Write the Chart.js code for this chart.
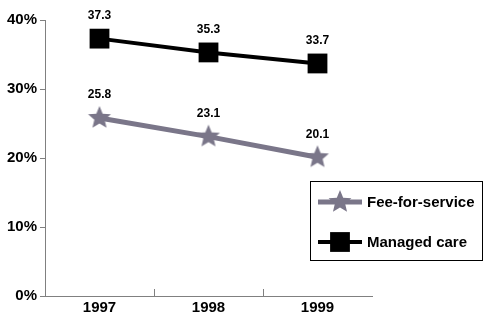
<!DOCTYPE html>
<html>
<head>
<meta charset="utf-8">
<script src="https://cdn.jsdelivr.net/npm/chart.js@4"></script>
<style>
  html, body { margin: 0; padding: 0; background: #fff; }
  #wrap { width: 485px; height: 314px; }
</style>
</head>
<body>
<div id="wrap"><canvas id="myChart" width="485" height="314"></canvas></div>
<script>
// chart values
const years = ["1997", "1998", "1999"];
const feeForService = [25.8, 23.1, 20.1];
const managedCare = [37.3, 35.3, 33.7];
const yTicks = [0, 10, 20, 30, 40];

const FONT = "Arial, 'Liberation Sans', sans-serif";
const GREY = "#7a7689";

// filled five point star used as point marker
function makeStar(r, color){
    const c = document.createElement("canvas");
    c.width = r * 2 + 2;
    c.height = r * 2 + 2;
    const g = c.getContext("2d");
    g.fillStyle = color;
    g.beginPath();
    for (let i = 0; i < 10; i++) {
        const rad = i % 2 === 0 ? r : r * 0.45;
        const a = -Math.PI / 2 + i * Math.PI / 5;
        const px = r + 1 + rad * Math.cos(a);
        const py = r + 1 + rad * Math.sin(a);
        if (i === 0) g.moveTo(px, py); else g.lineTo(px, py);
    }
    g.closePath();
    g.fill();
    return c;
}
const star = makeStar(12, GREY);

// value labels above each point
const valueLabels = {
    id: "valueLabels",
    afterDatasetsDraw(chart){
        const ctx = chart.ctx;
        ctx.save();
        ctx.font = "bold 12px " + FONT;
        ctx.fillStyle = "#000";
        ctx.textAlign = "center";
        ctx.textBaseline = "middle";
        chart.data.datasets.forEach((ds, i) => {
            chart.getDatasetMeta(i).data.forEach((pt, j) => {
                ctx.fillText(ds.data[j].toFixed(1), pt.x, pt.y - 23);
            });
        });
        ctx.restore();
    }
};

// small inward ticks between categories on the x axis
const xTicks = {
    id: "xTicks",
    afterDraw(chart){
        const ctx = chart.ctx;
        const x = chart.scales.x;
        ctx.save();
        ctx.strokeStyle = "#808080";
        ctx.lineWidth = 1;
        for (let i = 0; i < years.length - 1; i++) {
            const px = Math.round((x.getPixelForValue(i) + x.getPixelForValue(i + 1)) / 2) + 0.5;
            ctx.beginPath();
            ctx.moveTo(px, x.top);
            ctx.lineTo(px, x.top - 7);
            ctx.stroke();
        }
        ctx.restore();
    }
};

// boxed legend inside the plot
const boxLegend = {
    id: "boxLegend",
    afterDraw(chart){
        const ctx = chart.ctx;
        ctx.save();
        ctx.strokeStyle = "#000";
        ctx.lineWidth = 1;
        ctx.strokeRect(310.5, 181.5, 172, 79);
        const rows = [
            { y: 202, ds: chart.data.datasets[0] },
            { y: 242, ds: chart.data.datasets[1] }
        ];
        rows.forEach(row => {
            ctx.strokeStyle = row.ds.borderColor;
            ctx.lineWidth = row.ds.borderWidth;
            ctx.beginPath();
            ctx.moveTo(318, row.y);
            ctx.lineTo(362, row.y);
            ctx.stroke();
            Chart.helpers.drawPoint(ctx, {
                pointStyle: row.ds.pointStyle,
                radius: row.ds.pointRadius,
                rotation: 0,
                borderWidth: 0
            }, 340, row.y);
            ctx.fillStyle = "#000";
            ctx.font = "bold 15px " + FONT;
            ctx.textAlign = "left";
            ctx.textBaseline = "middle";
            ctx.fillText(row.ds.label, 367, row.y + 1);
        });
        ctx.restore();
    }
};

new Chart(document.getElementById("myChart"), {
    type: "line",
    data: {
        labels: years,
        datasets: [{
            label: "Fee-for-service",
            data: feeForService,
            borderColor: GREY,
            backgroundColor: GREY,
            borderWidth: 5,
            pointStyle: star,
            pointRadius: 12,
            pointHoverRadius: 12,
            pointBorderWidth: 0
        }, {
            label: "Managed care",
            data: managedCare,
            borderColor: "#000",
            backgroundColor: "#000",
            borderWidth: 4,
            pointStyle: "rect",
            pointRadius: 14,
            pointHoverRadius: 14,
            pointBorderWidth: 0
        }]
    },
    options: {
        responsive: false,
        animation: false,
        events: [],
        layout: { padding: { top: 20, right: 113, left: 0, bottom: 0 } },
        plugins: {
            legend: { display: false },
            tooltip: { enabled: false }
        },
        scales: {
            x: {
                offset: true,
                grid: { display: false, drawTicks: false },
                border: { color: "#808080", width: 1 },
                ticks: {
                    color: "#000",
                    padding: 3,
                    font: { family: FONT, size: 15, weight: "bold" }
                },
                afterFit(scale){ scale.height = 18; }
            },
            y: {
                min: 0,
                max: 40,
                afterBuildTicks(scale){ scale.ticks = yTicks.map(v => ({ value: v })); },
                grid: { drawOnChartArea: false, tickLength: 5, color: "#808080" },
                border: { color: "#808080", width: 1 },
                ticks: {
                    color: "#000",
                    padding: 3,
                    font: { family: FONT, size: 15, weight: "bold" },
                    callback: v => v + "%"
                },
                afterFit(scale){ scale.width = 45; }
            }
        }
    },
    plugins: [valueLabels, xTicks, boxLegend]
});
</script>
</body>
</html>
